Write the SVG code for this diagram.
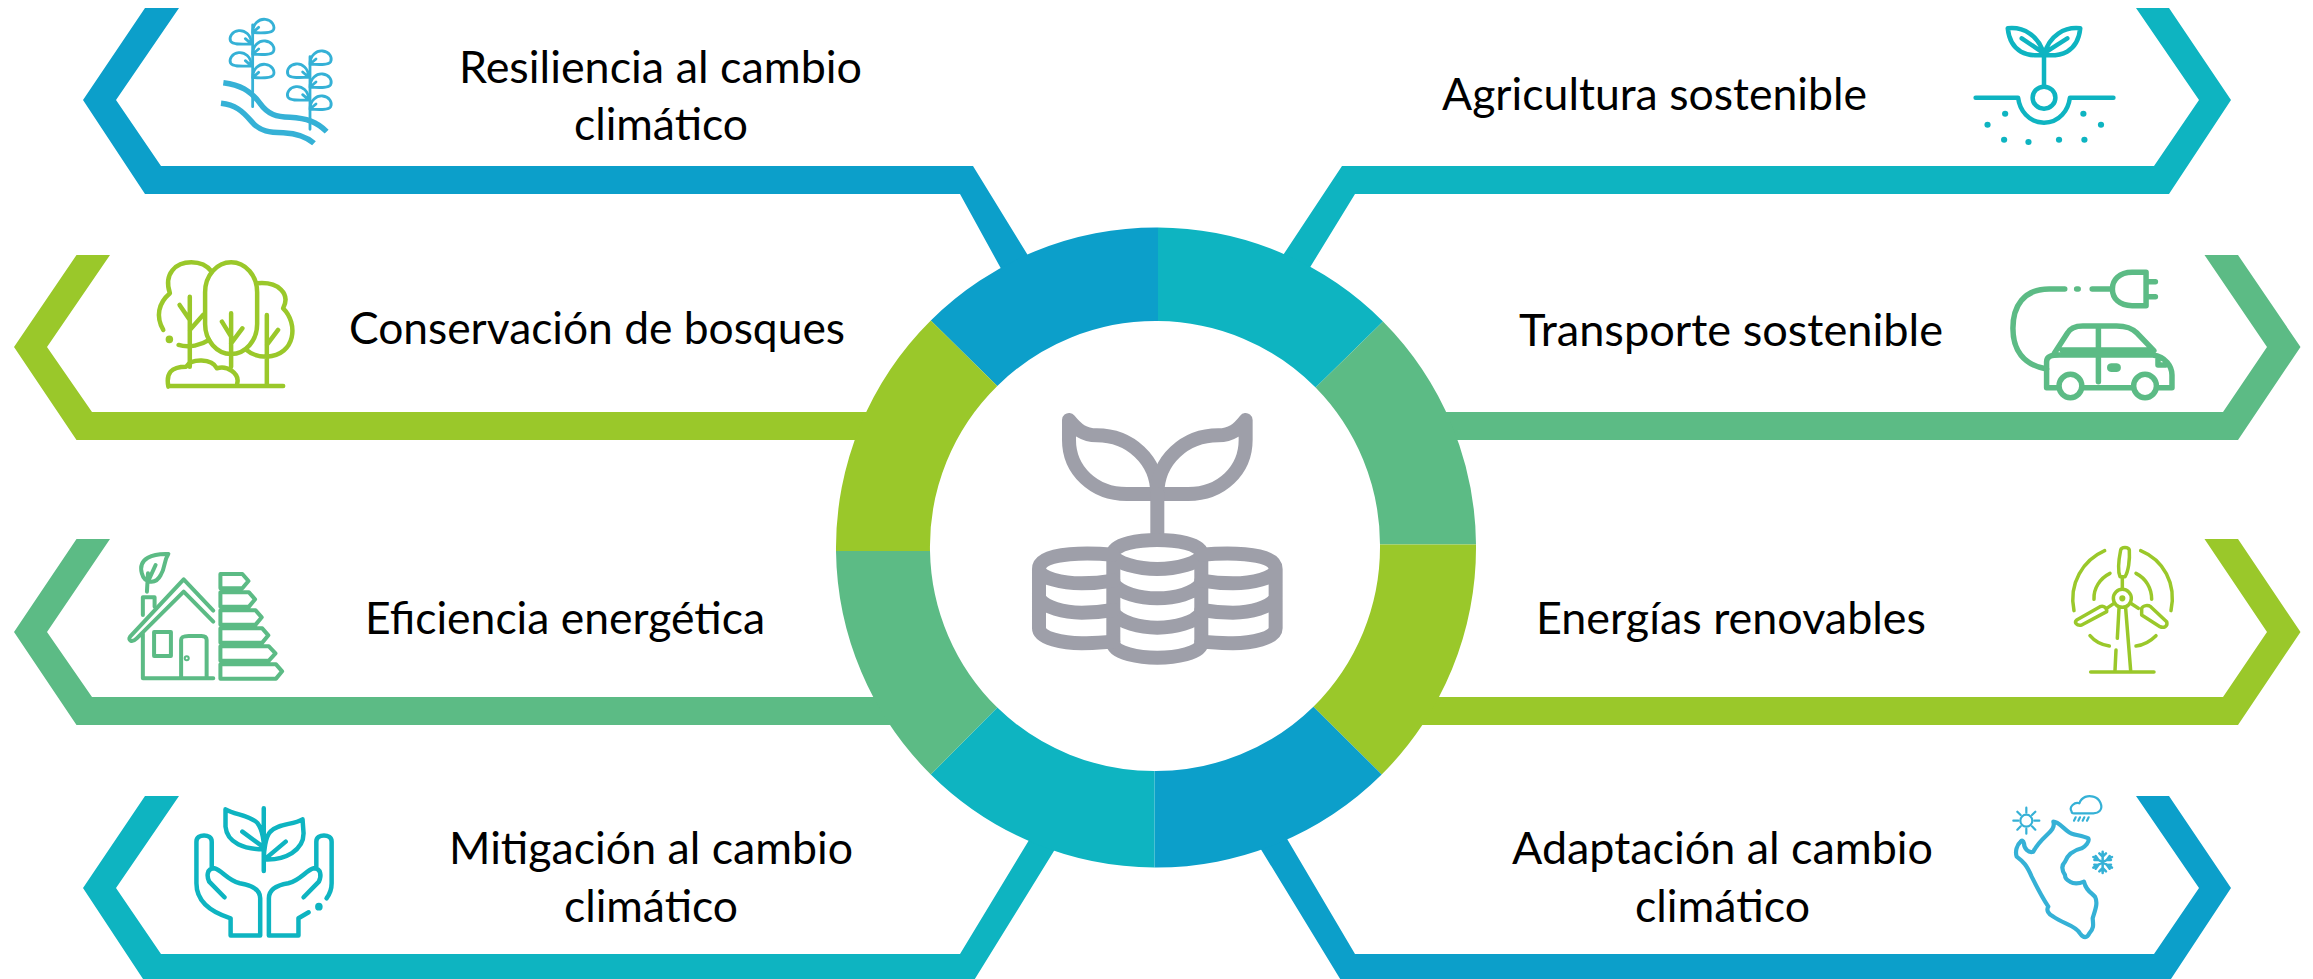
<svg xmlns="http://www.w3.org/2000/svg" width="2313" height="979" viewBox="0 0 2313 979">
<style>
text{font-family:"Lato","Liberation Sans",sans-serif;font-size:45px;fill:#000}
.i{fill:none;stroke-linecap:round;stroke-linejoin:round}
.i *,.v{vector-effect:non-scaling-stroke}
.dots *{stroke:none}
.blue{fill:#0c9fca}.teal{fill:#0eb4c1}.green{fill:#5cbb85}.lime{fill:#9ac82a}
</style>
<defs>
<g id="coinside"><path class="v" d="M340,494C290,490 117,480 117,537V715C117,745 190,760 245,760C280,760 310,757 340,755M117,537C117,565 190,580 245,580C280,580 310,577 340,572M117,625C135,652 190,668 245,668C280,668 310,665 340,660"/></g>
<path id="leaf" class="v" d="M0,0C0,-28 20,-42 38,-40C58,-38 68,-20 62,-8C54,4 22,0 0,0ZM18,-16L4,-4"/>
</defs>
<rect width="2313" height="979" fill="#fff"/>
<g id="connectors">
<polygon class="blue" points="145,8 179,8 116,100 161,166 973,166 1040,275 1010,285 960,194 145,194 83,100"/>
<polygon class="lime" points="76.500,255 110,255 47,347 92,412 900,412 900,440 76.500,440 14,347"/>
<polygon class="green" points="76.500,539 110,539 47,632 92,697 920,697 920,725 76.500,725 14,632"/>
<polygon class="teal" points="145,796 179,796 116,888 161,954 960,954 1040,822 1070,825 973,982 145,982 83,888"/>
<polygon class="teal" points="2136,8 2169,8 2231,100 2169,194 1355,194 1290,300 1260,290 1342,166 2154,166 2199,100"/>
<polygon class="green" points="2204.500,255 2238,255 2300.500,347 2238,440 1400,440 1400,412 2223,412 2267,347"/>
<polygon class="lime" points="2204.500,539 2238,539 2300.500,632 2238,725 1390,725 1390,697 2223,697 2267,632"/>
<polygon class="blue" points="2136,796 2169,796 2231,888 2169,982 1342,982 1240,815 1270,810 1355,954 2154,954 2199,888"/>
</g>
<g id="hub">
<path class="blue" d="M1158,227.500A320,320 0 0 0 930.800,320.500L997.300,386A225,225 0 0 1 1158,321Z"/>
<path class="teal" d="M1158,227.500A320,320 0 0 1 1383,321.400L1315.600,387.500A225,225 0 0 0 1158,321Z"/>
<path class="green" d="M1383,321.400A320,320 0 0 1 1476,544.600H1380A225,225 0 0 0 1315.600,387.500Z"/>
<path class="lime" d="M1476,544.600A320,320 0 0 1 1381.700,774.500L1313.400,706.700A225,225 0 0 0 1380,544.600Z"/>
<path class="blue" d="M1381.700,774.500A320,320 0 0 1 1154.500,867.500V771A225,225 0 0 0 1313.400,706.700Z"/>
<path class="teal" d="M1154.500,867.500A320,320 0 0 1 930.800,774.500L997.300,707.600A225,225 0 0 0 1154.500,771Z"/>
<path class="green" d="M930.800,774.500A320,320 0 0 1 836,551H930A225,225 0 0 0 997.300,707.600Z"/>
<path class="lime" d="M836,551A320,320 0 0 1 930.800,320.500L997.300,386A225,225 0 0 0 930,551Z"/>
<g id="center-icon" class="i" stroke="#9e9fa9" stroke-width="14" transform="translate(1000 390) scale(.3333)">
<path d="M207,90V150C207,240 280,312 380,312H472C472,210 390,136 290,136C250,136 230,118 207,90Z"/>
<path d="M737,90V150C737,240 665,312 565,312H472C472,210 555,136 655,136C695,136 715,118 737,90Z"/>
<path d="M472,312V445"/>
<path d="M340,492V760C340,790 420,803 472,803C525,803 604,790 604,760V492M340,492C340,460 420,450 472,450C525,450 604,460 604,492C604,520 525,537 472,537C420,537 340,520 340,492M340,580C360,610 420,625 472,625C525,625 585,610 604,580M340,668C360,698 420,713 472,713C525,713 585,698 604,668"/>
<use href="#coinside"/>
<use href="#coinside" transform="matrix(-1 0 0 1 944 0)"/>
</g>
</g>
<g id="node-resiliencia">
<text x="459" y="83" textLength="403" lengthAdjust="spacingAndGlyphs">Resiliencia al cambio</text>
<text x="574" y="140" textLength="174" lengthAdjust="spacingAndGlyphs">climático</text>
<g class="i" stroke="#35b1d6" stroke-width="2.800" transform="translate(210 10) scale(.3333)">
<path d="M128,45V290M300,140V358"/>
<use href="#leaf" x="128" y="68"/><use href="#leaf" x="128" y="133"/><use href="#leaf" x="128" y="203"/>
<use href="#leaf" transform="matrix(-1 0 0 1 124 102)"/><use href="#leaf" transform="matrix(-1 0 0 1 124 168)"/>
<use href="#leaf" x="300" y="163"/><use href="#leaf" x="300" y="232"/><use href="#leaf" x="300" y="298"/>
<use href="#leaf" transform="matrix(-1 0 0 1 296 202)"/><use href="#leaf" transform="matrix(-1 0 0 1 296 270)"/>
<path stroke-width="5.500" stroke-linecap="butt" d="M40,218C90,225 120,240 150,280C175,315 200,320 240,322C290,325 320,335 350,365M33,280C75,285 95,300 125,335C150,365 180,368 220,368C260,370 290,380 312,400"/>
</g>
</g>
<g id="node-conservacion">
<text x="349" y="344" textLength="496" lengthAdjust="spacingAndGlyphs">Conservación de bosques</text>
<g class="i" stroke="#9ac82a" stroke-width="4.500" transform="scale(.5102 .3333)">
<path d="M320,990C305,950 310,910 333,880C320,820 345,787 375,787C392,787 405,795 415,815M350,1035C370,1045 395,1035 410,1020M372,890V1100M352,915L372,960M398,945L372,990"/>
<rect x="402" y="787" width="102" height="275" rx="51" ry="90"/>
<path d="M453,940V1100M435,965L453,1010M475,985L453,1030M505,850C545,845 570,880 555,925C585,970 580,1065 523,1070C505,1070 490,1060 483,1050M523,945V1155M545,990L523,1035M330,1160C325,1120 335,1100 365,1100C375,1075 415,1075 425,1105C445,1095 470,1120 465,1150M330,1158H555"/>
<ellipse cx="332" cy="1018" rx="3" ry="5" fill="#9ac82a"/>
</g>
</g>
<g id="node-eficiencia">
<text x="365" y="634" textLength="400" lengthAdjust="spacingAndGlyphs">Eficiencia energética</text>
<g class="i" stroke="#5cbb85" stroke-width="4" transform="translate(0 490) scale(.5102 .3333)">
<path d="M288,305L290,250M330,192C300,190 270,205 278,250C283,280 305,285 315,255C325,230 320,215 330,192ZM305,225L290,275M280,375V322H303V350"/>
<path d="M255,440C250,450 258,460 268,445L360,305L418,395M255,440L360,268L418,362M280,430V565H418M355,565V450C355,440 360,438 370,438H395C403,438 405,445 405,450V565"/>
<rect x="302" y="426" width="33" height="72"/>
<ellipse cx="366" cy="505" rx="2" ry="3"/>
<path d="M432,252H475L487,273L475,295H432ZM432,307H488L500,328L488,350H432ZM432,361H501L513,382L501,404H432ZM432,415H514L526,436L514,458H432ZM432,469H527L540,490L527,512H432ZM432,523H541L553,544L541,566H432Z"/>
</g>
</g>
<g id="node-mitigacion">
<text x="449" y="864" textLength="404" lengthAdjust="spacingAndGlyphs">Mitigación al cambio</text>
<text x="564" y="922" textLength="174" lengthAdjust="spacingAndGlyphs">climático</text>
<g class="i" stroke="#0eb4c1" stroke-width="4.500" transform="translate(0 490) scale(.5102 .3333)">
<path d="M442,958C460,975 490,975 505,1000C515,1020 518,1060 517,1078C480,1078 445,1060 442,1010ZM475,1025L515,1070M517,955V1143M593,988C575,1005 545,1000 530,1025C520,1040 517,1085 517,1108C560,1112 595,1080 595,1030ZM525,1100L560,1055"/>
<path d="M415,1130V1055C415,1030 385,1030 385,1055V1180C385,1230 410,1265 452,1285V1337H510V1225C510,1195 490,1185 470,1180C445,1170 435,1140 420,1135C405,1135 405,1160 410,1175L440,1222"/>
<path d="M620,1130V1055C620,1030 650,1030 650,1055V1180C650,1195 645,1215 640,1225M605,1267L585,1285V1337H527V1225C527,1195 545,1185 565,1180C590,1170 600,1140 615,1135C630,1135 630,1160 625,1175L595,1222"/>
<ellipse cx="625" cy="1250" rx="3" ry="5" fill="#0eb4c1"/>
</g>
</g>
<g id="node-agricultura">
<text x="1442" y="110" textLength="425" lengthAdjust="spacingAndGlyphs">Agricultura sostenible</text>
<g class="i" stroke="#0eb4c1" stroke-width="4.500" transform="translate(1500 0) scale(.5181 .3333)">
<path d="M918,293H1000C1003,330 1020,368 1050,368C1080,368 1097,330 1100,293H1184M1050,255V165M980,85C1010,80 1040,105 1050,165C1020,170 985,160 980,85ZM1120,85C1090,80 1060,105 1050,165C1080,170 1115,160 1120,85ZM1007,115L1045,155M1095,115L1055,155"/>
<ellipse cx="1050" cy="293" rx="22" ry="33"/>
<g class="dots" fill="#0eb4c1"><ellipse cx="975" cy="341" rx="6" ry="9"/><ellipse cx="941" cy="374" rx="6" ry="9"/><ellipse cx="973" cy="419" rx="6" ry="9"/><ellipse cx="1020" cy="426" rx="6" ry="9"/><ellipse cx="1079" cy="419" rx="6" ry="9"/><ellipse cx="1128" cy="419" rx="6" ry="9"/><ellipse cx="1160" cy="374" rx="6" ry="9"/><ellipse cx="1126" cy="341" rx="6" ry="9"/></g>
</g>
</g>
<g id="node-transporte">
<text x="1519" y="346" textLength="424" lengthAdjust="spacingAndGlyphs">Transporte sostenible</text>
<g class="i" stroke="#5cbb85" stroke-width="5.500" transform="translate(1500 0) scale(.5181 .3333)">
<path d="M1090,867H1060C1010,867 990,920 990,985C990,1050 1010,1095 1055,1107M1113,867H1116M1143,867H1180M1247,817H1220C1195,817 1182,840 1182,867C1182,895 1195,917 1220,917H1247ZM1247,845H1265M1247,890H1265"/>
<path d="M1070,1060L1095,1000C1100,985 1110,978 1125,978H1190C1210,978 1220,985 1230,1000L1262,1052M1155,980V1145M1085,1050H1260M1055,1085C1055,1068 1065,1065 1080,1065H1260C1285,1070 1297,1100 1297,1125V1163H1270M1222,1163H1125M1078,1163H1055V1085M1270,1075V1095L1285,1095"/>
<ellipse cx="1101" cy="1158" rx="22" ry="35"/><ellipse cx="1245" cy="1158" rx="22" ry="35"/>
<rect x="1177" y="1098" width="16" height="10" rx="3"/>
</g>
</g>
<g id="node-energias">
<text x="1536" y="634" textLength="390" lengthAdjust="spacingAndGlyphs">Energías renovables</text>
<g class="i" stroke="#9ac82a" stroke-width="3.500" transform="translate(2060 540) scale(.3333)">
<circle cx="187" cy="175" r="27"/>
<circle cx="187" cy="175" r="4" fill="#9ac82a"/>
<path d="M180,110C172,90 178,50 182,30C185,20 205,20 208,30C210,60 205,95 195,110ZM187,110V147M50,240L120,200C132,195 142,205 140,215L65,255C50,258 42,248 50,240ZM245,205C250,195 265,195 272,200L320,245C325,260 310,265 300,260L245,225ZM162,190L140,205M212,190L235,205"/>
<path d="M177,205L172,295M168,330L165,392M197,205L212,392"/>
<path d="M92,396H282"/>
<path d="M134,32C70,60 25,130 42,212M242,32C310,60 350,130 333,212M150,100C120,115 100,145 102,178M228,100C258,115 275,145 275,178M90,287C105,305 125,315 148,318M288,287C270,305 250,315 228,318"/>
</g>
</g>
<g id="node-adaptacion">
<text x="1512" y="864" textLength="421" lengthAdjust="spacingAndGlyphs">Adaptación al cambio</text>
<text x="1635" y="922" textLength="175" lengthAdjust="spacingAndGlyphs">climático</text>
<g class="i" stroke="#35b1d6" stroke-width="2.200" transform="translate(2000 790) scale(.3333)">
<circle cx="79" cy="92" r="18"/>
<path d="M79,53V68M79,116V131M40,92H55M103,92H118M52,65L62,75M106,65L96,75M52,119L62,109M106,119L96,109"/>
<path d="M215,65C205,50 225,35 238,40C245,20 265,15 280,20C300,25 310,50 300,62C295,68 285,70 280,70H222C218,70 215,68 215,65ZM222,92L227,82M235,92L240,82M248,92L253,82M261,92L266,82"/>
<path stroke-width="2.500" d="M308,185V249M280,201L336,233M336,201L280,233M298,190L308,200L318,190M298,244L308,234L318,244M283,210L295,209L287,198M333,224L321,225L329,236M333,210L321,209L329,198M283,224L295,225L287,236"/>
<path stroke-width="4.200" d="M62,155C50,165 45,185 50,200C70,215 80,225 95,260C110,290 125,320 145,350C138,360 145,372 160,380C190,402 225,405 240,430C250,445 262,445 268,430C282,415 280,405 278,385C285,360 295,340 285,320C270,305 258,300 252,275C240,280 225,285 210,275C200,270 195,265 195,255C185,240 185,225 195,215C205,190 225,180 245,175C255,170 270,155 265,145C245,135 215,135 205,125C190,115 175,95 160,95C170,125 125,135 100,185C85,190 72,175 72,160C70,150 65,150 62,155Z"/>
</g>
</g>
</svg>
